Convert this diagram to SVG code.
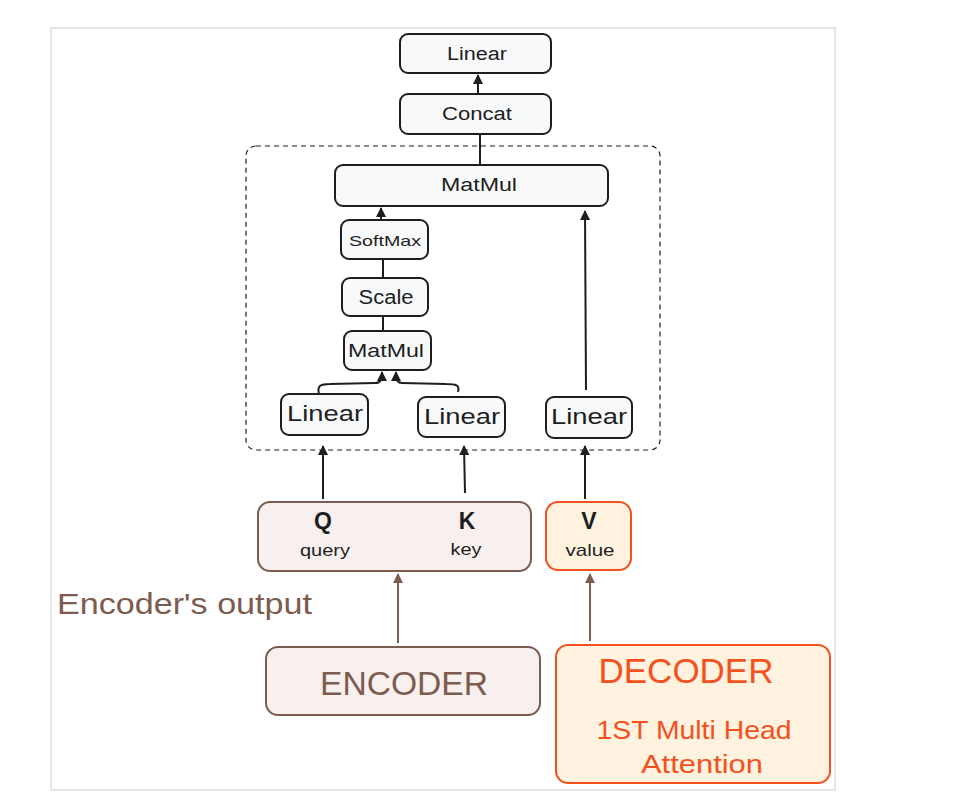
<svg xmlns="http://www.w3.org/2000/svg" width="975" height="812" viewBox="0 0 975 812">
<style>
.node rect{fill:#f8f9fa;stroke:#1e1e1e;stroke-width:2}
.t{font-family:"Liberation Sans",Arial,sans-serif;fill:#1e1e1e;text-anchor:middle;dominant-baseline:central}
.c{fill:none;stroke:#1e1e1e;stroke-width:2}
.cb{fill:none;stroke:#7d5c4f;stroke-width:2}
</style>
<defs>
<marker id="ah" viewBox="0 0 10 10" refX="9" refY="5" markerWidth="5" markerHeight="5" orient="auto-start-reverse"><path d="M0,0 L10,5 L0,10 z" fill="#1e1e1e"/></marker>
<marker id="ahb" viewBox="0 0 10 10" refX="9" refY="5" markerWidth="5" markerHeight="5" orient="auto-start-reverse"><path d="M0,0 L10,5 L0,10 z" fill="#7d5c4f"/></marker>
</defs>
<rect x="0" y="0" width="975" height="812" fill="#ffffff"/>
<rect x="51" y="28" width="784" height="762" fill="#ffffff" stroke="#e6e6e6" stroke-width="2"/>
<rect id="head-box" x="246" y="146" width="414" height="304" rx="10" fill="none" stroke="#1e1e1e" stroke-width="1.2" stroke-dasharray="5 4"/>

<g id="connectors">
<line class="c" x1="478" y1="94" x2="478" y2="75" marker-end="url(#ah)"/>
<line class="c" x1="480" y1="165" x2="480" y2="134"/>
<line class="c" x1="381" y1="220" x2="381" y2="208" marker-end="url(#ah)"/>
<line class="c" x1="383" y1="278" x2="383" y2="259"/>
<line class="c" x1="383" y1="331" x2="383" y2="316"/>
<line class="c" x1="586" y1="390" x2="585" y2="211" marker-end="url(#ah)"/>
<path class="c" d="M319,394 C317,386 320,384 330,384 L375,383 C380,383 382,381 382,372" marker-end="url(#ah)"/>
<path class="c" d="M458,392 C460,385 456,384 446,384 L402,383 C398,383 396,381 396,372" marker-end="url(#ah)"/>
<line class="c" x1="323" y1="499" x2="323" y2="446" marker-end="url(#ah)"/>
<line class="c" x1="465" y1="493" x2="464" y2="446" marker-end="url(#ah)"/>
<line class="c" x1="585" y1="499" x2="585" y2="446" marker-end="url(#ah)"/>
<line class="cb" x1="398" y1="643" x2="398" y2="574" marker-end="url(#ahb)"/>
<line class="cb" x1="590" y1="641" x2="590" y2="574" marker-end="url(#ahb)"/>
</g>

<g id="linear-out" class="node"><rect x="400" y="34" width="151" height="39" rx="8"/><text class="t" x="477" y="54" font-size="18" textLength="60" lengthAdjust="spacingAndGlyphs">Linear</text></g>
<g id="concat" class="node"><rect x="400" y="94" width="151" height="40" rx="8"/><text class="t" x="477" y="114" font-size="18" textLength="70" lengthAdjust="spacingAndGlyphs">Concat</text></g>
<g id="matmul-top" class="node"><rect x="335" y="165" width="273" height="41" rx="8"/><text class="t" x="479" y="185" font-size="18" textLength="76" lengthAdjust="spacingAndGlyphs">MatMul</text></g>
<g id="softmax" class="node"><rect x="341" y="220" width="87" height="39" rx="8"/><text class="t" x="385" y="240" font-size="15" textLength="72" lengthAdjust="spacingAndGlyphs">SoftMax</text></g>
<g id="scale" class="node"><rect x="342" y="278" width="86" height="38" rx="8"/><text class="t" x="386" y="297" font-size="20" textLength="55" lengthAdjust="spacingAndGlyphs">Scale</text></g>
<g id="matmul-small" class="node"><rect x="344" y="331" width="87" height="39" rx="8"/><text class="t" x="386" y="351" font-size="18" textLength="76" lengthAdjust="spacingAndGlyphs">MatMul</text></g>
<g id="linear-q" class="node"><rect x="281" y="394" width="87" height="41" rx="8"/><text class="t" x="325" y="413" font-size="22" textLength="76" lengthAdjust="spacingAndGlyphs">Linear</text></g>
<g id="linear-k" class="node"><rect x="418" y="397" width="87" height="40" rx="8"/><text class="t" x="462" y="416" font-size="22" textLength="76" lengthAdjust="spacingAndGlyphs">Linear</text></g>
<g id="linear-v" class="node"><rect x="546" y="397" width="86" height="41" rx="8"/><text class="t" x="589" y="416" font-size="22" textLength="76" lengthAdjust="spacingAndGlyphs">Linear</text></g>

<g id="qk">
<rect x="258" y="502" width="273" height="69" rx="12" fill="#f8f0ee" stroke="#7d5c4f" stroke-width="2"/>
<text class="t" x="323" y="521" font-size="23" font-weight="bold">Q</text>
<text class="t" x="325" y="550" font-size="17" textLength="50" lengthAdjust="spacingAndGlyphs">query</text>
<text class="t" x="467" y="521" font-size="23" font-weight="bold">K</text>
<text class="t" x="466" y="549" font-size="17" textLength="31" lengthAdjust="spacingAndGlyphs">key</text>
</g>
<g id="v">
<rect x="546" y="502" width="85" height="68" rx="12" fill="#fff3e0" stroke="#f4511e" stroke-width="2"/>
<text class="t" x="589" y="521" font-size="23" font-weight="bold">V</text>
<text class="t" x="590" y="550" font-size="17" textLength="49" lengthAdjust="spacingAndGlyphs">value</text>
</g>

<text id="enc-label" x="57" y="604" font-family="Liberation Sans,Arial,sans-serif" font-size="29" fill="#7d5c4f" dominant-baseline="central" textLength="255" lengthAdjust="spacingAndGlyphs">Encoder's output</text>

<g id="encoder">
<rect x="266" y="647" width="274" height="68" rx="12" fill="#f8f0ee" stroke="#7d5c4f" stroke-width="2"/>
<text class="t" x="404" y="683" font-size="33" style="fill:#7d5c4f" textLength="168" lengthAdjust="spacingAndGlyphs">ENCODER</text>
</g>
<g id="decoder">
<rect x="556" y="645" width="274" height="138" rx="12" fill="#fff3e0" stroke="#f4511e" stroke-width="2"/>
<text class="t" x="686" y="670" font-size="35" style="fill:#f4511e" textLength="175" lengthAdjust="spacingAndGlyphs">DECODER</text>
<text class="t" x="694" y="730" font-size="25" style="fill:#f4511e" textLength="195" lengthAdjust="spacingAndGlyphs">1ST Multi Head</text>
<text class="t" x="702" y="764" font-size="25" style="fill:#f4511e" textLength="122" lengthAdjust="spacingAndGlyphs">Attention</text>
</g>
</svg>
